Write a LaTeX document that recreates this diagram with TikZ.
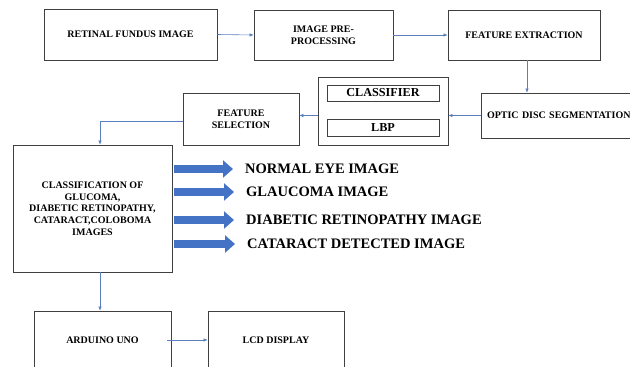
\documentclass[tikz,border=0pt]{standalone}
\usepackage{fontspec}
\setmainfont{Liberation Serif}
\newfontfamily\diagfont{Liberation Serif}
\usetikzlibrary{arrows.meta,positioning}
\definecolor{linkblue}{RGB}{91,127,190}
\definecolor{fatblue}{RGB}{68,114,196}

\begin{document}
\begin{tikzpicture}[
  x=1pt, y=-1pt,
  font=\diagfont\fontsize{10}{11.7}\selectfont\bfseries,
  box/.style={draw=black!75, line width=0.7pt, align=center, inner sep=3pt},
  inbox/.style={box, font=\diagfont\fontsize{12.2}{14}\selectfont\bfseries},
  arrow/.style={-{Latex[length=4pt,width=3.5pt]}, linkblue, line width=0.6pt},
  fat/.style={-{Triangle[length=10pt,width=17pt]}, fatblue, line width=8pt},
  result/.style={anchor=west, inner sep=0pt, font=\diagfont\fontsize{14.5}{16}\selectfont\bfseries}
]
\useasboundingbox (0,0) rectangle (630,367);
\clip (0,0) rectangle (630,367);

\node[box, minimum width=173, minimum height=51] (fundus) at (130.5,34.5) {RETINAL FUNDUS IMAGE};
\node[box, minimum width=139, minimum height=50] (preproc) at (323.5,35) {IMAGE PRE-\\PROCESSING};
\node[box, minimum width=152, minimum height=50] (featext) at (524,35) {FEATURE EXTRACTION};
\node[box, minimum width=170, minimum height=45, text width=158pt, align=left, inner sep=6pt] (optic) at (566,115.5) {OPTIC DISC SEGMENTATION};
\node[box, minimum width=130, minimum height=68] (clfbox) at (383,111) {};
\node[inbox, minimum width=112, minimum height=16, inner sep=0pt] (clf) at (383,93) {CLASSIFIER};
\node[inbox, minimum width=112, minimum height=17, inner sep=0pt] (lbp) at (383,127.5) {LBP};
\node[box, minimum width=116, minimum height=52] (featsel) at (241,119) {FEATURE\\SELECTION};
\node[box, minimum width=159, minimum height=127] (classify) at (92.5,208.5) {CLASSIFICATION OF\\GLUCOMA,\\DIABETIC RETINOPATHY,\\CATARACT,COLOBOMA\\IMAGES};
\node[box, minimum width=137, minimum height=58] (arduino) at (102.5,340) {ARDUINO UNO};
\node[box, minimum width=136, minimum height=58] (lcd) at (276,340) {LCD DISPLAY};
\coordinate (drop) at (100,0);

\node[result] (normal) at (245,169) {NORMAL EYE IMAGE};
\node[result] (glaucoma) at (246,192) {GLAUCOMA IMAGE};
\node[result] (diabetic) at (246,220) {DIABETIC RETINOPATHY IMAGE};
\node[result] (cataract) at (247,244) {CATARACT DETECTED IMAGE};

\draw[arrow] (fundus.east) -- (preproc.west);
\draw[arrow] (preproc.east) -- (featext.west);
\draw[arrow] ([xshift=3pt]featext.south) -- ([xshift=3pt]featext.south |- optic.north);
\draw[arrow] (optic.west) -- (optic.west -| clfbox.east);
\draw[arrow] (clfbox.west |- optic.west) -- (featsel.east |- optic.west);
\draw[arrow] ([yshift=-2pt]featsel.west) -| (drop |- classify.north);
\draw[arrow] (drop |- classify.south) -- (drop |- arduino.north);
\draw[arrow] ([xshift=-4pt]arduino.east) -- (lcd.west);

\foreach \res in {normal,glaucoma,diabetic,cataract}
  \draw[fat, shorten <=2pt, shorten >=12pt] (classify.east |- \res.west) -- (\res.west);

\end{tikzpicture}
\end{document}
